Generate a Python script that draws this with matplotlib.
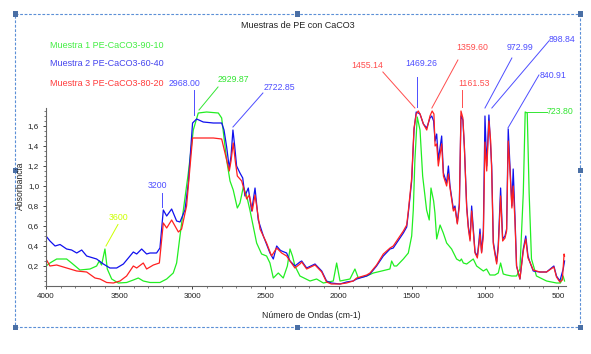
import matplotlib
matplotlib.use("Agg")
import matplotlib.pyplot as plt
from matplotlib.patches import Rectangle
from matplotlib.ticker import MultipleLocator, FuncFormatter

plt.rcParams['font.family'] = ['Liberation Sans', 'DejaVu Sans']

title = "Muestras de PE con CaCO3"
series_names = ["Muestra 1 PE-CaCO3-90-10", "Muestra 2 PE-CaCO3-60-40", "Muestra 3 PE-CaCO3-80-20"]
xlabel = "Número de Ondas (cm-1)"
ylabel = "Absorbancia"
xticks = [4000, 3500, 3000, 2500, 2000, 1500, 1000, 500]
yticks = [0.2, 0.4, 0.6, 0.8, 1.0, 1.2, 1.4, 1.6]

# Muestra 1 (green)
w1 = [4000, 3973, 3927, 3859, 3825, 3768, 3699, 3654, 3636, 3620, 3597, 3581, 3551, 3506, 3449,
      3403, 3369, 3335, 3289, 3221, 3175, 3130, 3107, 3084, 3061, 3027, 2993, 2959, 2902, 2822,
      2799, 2765, 2742, 2720, 2692, 2674, 2651, 2628, 2606, 2560, 2526, 2492, 2469, 2446, 2412,
      2378, 2350, 2332, 2315, 2298, 2264, 2195, 2150, 2104, 2036, 2013, 1990, 1922, 1888, 1865,
      1808, 1762, 1705, 1649, 1637, 1620, 1603, 1557, 1523, 1500, 1489, 1478, 1462, 1443, 1425,
      1398, 1380, 1368, 1350, 1341, 1329, 1306, 1284, 1261, 1227, 1193, 1170, 1160, 1147, 1124,
      1079, 1056, 1010, 988, 965, 931, 908, 892, 874, 851, 817, 783, 760, 737, 724,
      710, 697, 681, 647, 578, 510, 483, 465, 455]
a1 = [0.20, 0.23, 0.27, 0.27, 0.23, 0.16, 0.17, 0.20, 0.25, 0.21, 0.37, 0.17, 0.07, 0.03, 0.035,
      0.06, 0.08, 0.05, 0.035, 0.035, 0.07, 0.13, 0.23, 0.50, 0.76, 1.13, 1.56, 1.73, 1.74, 1.73,
      1.68, 1.26, 1.05, 0.96, 0.78, 0.83, 0.99, 0.90, 0.76, 0.43, 0.32, 0.30, 0.23, 0.08, 0.13,
      0.08, 0.20, 0.37, 0.30, 0.20, 0.10, 0.05, 0.07, 0.03, 0.05, 0.23, 0.05, 0.07, 0.17, 0.08,
      0.10, 0.13, 0.15, 0.17, 0.25, 0.20, 0.20, 0.27, 0.33, 0.50, 0.76, 1.26, 1.69, 1.56, 1.10,
      0.76, 0.66, 0.98, 0.85, 0.73, 0.47, 0.61, 0.53, 0.43, 0.37, 0.27, 0.25, 0.27, 0.23, 0.22,
      0.27, 0.20, 0.15, 0.17, 0.11, 0.11, 0.13, 0.23, 0.12, 0.11, 0.10, 0.10, 0.17, 0.93, 1.74,
      1.73, 0.93, 0.27, 0.10, 0.05, 0.03, 0.03, 0.10, 0.05]

# Muestra 2 (blue)
w2 = [4000, 3973, 3938, 3904, 3859, 3825, 3790, 3756, 3722, 3654, 3608, 3563, 3517, 3471, 3437,
      3403, 3380, 3346, 3312, 3289, 3244, 3221, 3198, 3175, 3141, 3107, 3084, 3050, 3027, 2998,
      2970, 2925, 2856, 2799, 2783, 2765, 2747, 2735, 2722, 2710, 2697, 2674, 2655, 2640, 2617,
      2594, 2571, 2549, 2514, 2469, 2446, 2423, 2400, 2389, 2355, 2332, 2298, 2264, 2252, 2218,
      2161, 2115, 2082, 2050, 1990, 1945, 1900, 1876, 1808, 1785, 1740, 1694, 1648, 1626, 1603,
      1557, 1534, 1523, 1500, 1484, 1469, 1455, 1443, 1420, 1397, 1375, 1363, 1350, 1340, 1329,
      1318, 1295, 1283, 1261, 1249, 1238, 1215, 1204, 1188, 1174, 1163, 1150, 1140, 1124, 1113,
      1101, 1090, 1067, 1051, 1040, 1033, 1022, 1010, 999, 987, 972, 960, 953, 942, 931,
      919, 908, 892, 878, 862, 851, 840, 828, 815, 806, 794, 783, 760, 737, 720,
      705, 692, 669, 624, 578, 528, 510, 487, 464, 455]
a2 = [0.50, 0.45, 0.40, 0.415, 0.37, 0.36, 0.33, 0.36, 0.30, 0.27, 0.22, 0.18, 0.18, 0.22, 0.28,
      0.34, 0.32, 0.37, 0.32, 0.33, 0.33, 0.38, 0.76, 0.70, 0.77, 0.65, 0.64, 0.76, 1.03, 1.63,
      1.67, 1.64, 1.63, 1.63, 1.56, 1.39, 1.18, 1.30, 1.56, 1.40, 1.20, 1.13, 1.08, 0.90, 0.98,
      0.75, 0.98, 0.66, 0.50, 0.33, 0.27, 0.40, 0.36, 0.35, 0.33, 0.25, 0.20, 0.24, 0.25, 0.18,
      0.22, 0.15, 0.05, 0.03, 0.02, 0.04, 0.05, 0.07, 0.10, 0.12, 0.20, 0.30, 0.37, 0.38, 0.43,
      0.53, 0.59, 0.73, 1.05, 1.56, 1.74, 1.73, 1.72, 1.62, 1.58, 1.68, 1.70, 1.65, 1.45, 1.52,
      1.26, 1.50, 1.13, 1.03, 1.20, 1.00, 0.77, 0.80, 0.63, 0.83, 1.70, 1.66, 1.40, 0.80, 0.60,
      0.47, 0.80, 0.34, 0.30, 0.45, 0.57, 0.34, 0.55, 1.70, 1.20, 1.71, 1.40, 1.20, 0.44, 0.34,
      0.24, 0.41, 0.98, 0.47, 0.50, 0.57, 1.57, 1.20, 0.80, 1.17, 0.70, 0.20, 0.07, 0.37, 0.50,
      0.30, 0.24, 0.15, 0.14, 0.14, 0.20, 0.10, 0.05, 0.17, 0.25]

# Muestra 3 (red)
w3 = [4000, 3973, 3927, 3859, 3790, 3722, 3665, 3631, 3585, 3540, 3494, 3449, 3403, 3380, 3335,
      3312, 3266, 3225, 3198, 3175, 3141, 3095, 3073, 3039, 2998, 2948, 2856, 2799, 2776, 2747,
      2735, 2720, 2706, 2692, 2662, 2628, 2610, 2590, 2571, 2537, 2492, 2458, 2423, 2389, 2355,
      2332, 2298, 2264, 2252, 2218, 2161, 2115, 2082, 2050, 1990, 1945, 1900, 1876, 1808, 1785,
      1740, 1694, 1648, 1626, 1603, 1557, 1534, 1523, 1500, 1484, 1469, 1455, 1443, 1420, 1397,
      1375, 1360, 1348, 1340, 1329, 1318, 1295, 1283, 1261, 1249, 1238, 1215, 1204, 1188, 1174,
      1163, 1150, 1140, 1124, 1113, 1101, 1090, 1067, 1051, 1040, 1033, 1022, 1010, 999, 987,
      972, 960, 953, 942, 931, 919, 908, 892, 878, 862, 851, 840, 828, 815, 806,
      794, 783, 760, 737, 720, 705, 692, 669, 624, 578, 528, 510, 487, 470, 458, 455]
a3 = [0.27, 0.20, 0.21, 0.18, 0.15, 0.14, 0.08, 0.07, 0.035, 0.03, 0.05, 0.10, 0.20, 0.18, 0.23,
      0.17, 0.21, 0.23, 0.63, 0.58, 0.66, 0.54, 0.57, 0.80, 1.48, 1.48, 1.48, 1.47, 1.33, 1.15,
      1.25, 1.43, 1.25, 1.10, 1.05, 0.87, 0.91, 0.75, 0.91, 0.57, 0.43, 0.30, 0.38, 0.33, 0.30,
      0.25, 0.18, 0.22, 0.24, 0.17, 0.21, 0.14, 0.04, 0.02, 0.02, 0.03, 0.05, 0.08, 0.11, 0.13,
      0.21, 0.32, 0.38, 0.40, 0.45, 0.55, 0.61, 0.75, 1.08, 1.58, 1.72, 1.75, 1.72, 1.62, 1.56,
      1.70, 1.75, 1.72, 1.40, 1.42, 1.20, 1.42, 1.10, 1.00, 1.12, 0.98, 0.75, 0.78, 0.62, 0.80,
      1.75, 1.68, 1.40, 0.78, 0.58, 0.45, 0.75, 0.33, 0.28, 0.42, 0.52, 0.33, 0.50, 1.44, 1.15,
      1.65, 1.45, 1.15, 0.42, 0.32, 0.22, 0.38, 0.90, 0.45, 0.48, 0.55, 1.45, 1.15, 0.78, 1.00,
      0.65, 0.20, 0.07, 0.35, 0.47, 0.28, 0.24, 0.16, 0.14, 0.14, 0.19, 0.09, 0.04, 0.06, 0.32, 0.30]

# peak annotations: (text, colour, text position, line start, line end) in data units
ann_text = ["2968.00", "2929.87", "2722.85", "3200", "3600", "1455.14", "1469.26",
            "1359.60", "1161.53", "972.99", "898.84", "840.91", "723.80"]
ann_color = ["#4d4dff", "#33e633", "#4d4dff", "#4d4dff", "#ccff00", "#ff4d4d", "#4d4dff",
             "#ff4d4d", "#ff4d4d", "#4d4dff", "#4d4dff", "#4d4dff", "#33e633"]
ann_txt_xy = [(3050, 2.03), (2722, 2.06), (2401, 1.99), (3241, 1.00), (3501, 0.68),
              (1806, 2.21), (1437, 2.22), (1088, 2.38), (1075, 2.03), (760, 2.38),
              (473, 2.46), (535, 2.11), (487, 1.74)]
ann_l0 = [(2988, 1.96), (2824, 1.99), (2517, 1.93), (3207, 0.93), (3508, 0.615),
          (1697, 2.14), (1464, 2.09), (1184, 2.26), (1157, 1.96), (815, 2.28),
          (562, 2.45), (630, 2.11), (712, 1.74)]
ann_l1 = [(2988, 1.71), (2954, 1.76), (2722, 1.59), (3207, 0.79), (3590, 0.40),
          (1478, 1.78), (1464, 1.79), (1362, 1.78), (1157, 1.79), (999, 1.78),
          (952, 1.78), (842, 1.58), (576, 1.74)]

W, H = 591, 354
fig = plt.figure(figsize=(W / 100, H / 100), dpi=100)
fig.patch.set_facecolor("white")

ax = fig.add_axes([46 / W, 1 - 286 / H, 520 / W, 178 / H])
line_colors = ["#22ee22", "#1010ee", "#ff2020"]
ax.plot(w1, a1, color=line_colors[0], lw=0.9)
ax.plot(w2, a2, color=line_colors[1], lw=0.9)
ax.plot(w3, a3, color=line_colors[2], lw=0.9)

ax.set_xlim(4000, 445)
ax.set_ylim(0.0, 1.78)
ax.set_xticks(xticks)
ax.set_yticks(yticks)
ax.xaxis.set_minor_locator(MultipleLocator(100))
ax.yaxis.set_minor_locator(MultipleLocator(0.05))
ax.yaxis.set_major_formatter(FuncFormatter(lambda v, p: f"{v:.1f}".replace(".", ",")))
for s in ["top", "right"]:
    ax.spines[s].set_visible(False)
for s in ["left", "bottom"]:
    ax.spines[s].set_color("#666666")
    ax.spines[s].set_linewidth(0.8)
ax.tick_params(which="major", direction="out", length=2.5, width=0.7, color="#444444",
               labelsize=5.8, pad=2.5, labelcolor="#222222")
ax.tick_params(which="minor", direction="out", length=1.5, width=0.6, color="#666666")

fig.text(311 / W, 1 - 316 / H, xlabel, ha="center", va="center", fontsize=6.2, color="#222222")
fig.text(20 / W, 1 - 186 / H, ylabel, ha="center", va="center", rotation=90, fontsize=6.2, color="#222222")
fig.text(298 / W, 1 - 25 / H, title, ha="center", va="center", fontsize=6.5, color="#222222")

leg_colors = ["#44ee44", "#4444ee", "#ff3b3b"]
leg_y = [46, 64, 83]
for name, c, yy in zip(series_names, leg_colors, leg_y):
    fig.text(50 / W, 1 - yy / H, name, ha="left", va="center", fontsize=6.5, color=c)

for t, c, txy, p0, p1 in zip(ann_text, ann_color, ann_txt_xy, ann_l0, ann_l1):
    ax.annotate(t, xy=txy, ha="center", va="center", fontsize=6.3, color=c, annotation_clip=False)
    ax.plot([p0[0], p1[0]], [p0[1], p1[1]], color=c, lw=0.7, clip_on=False)

# dashed selection frame with handles
frame = Rectangle((15 / W, 1 - 327 / H), 565 / W, 313 / H, transform=fig.transFigure,
                  fill=False, edgecolor="#5b8fd6", lw=0.8, linestyle=(0, (2.5, 1.5)))
fig.add_artist(frame)
handles = [(15, 14), (297, 14), (580, 14), (15, 170), (580, 170), (15, 327), (297, 327), (580, 327)]
for hx, hy in handles:
    fig.add_artist(Rectangle(((hx - 2.5) / W, 1 - (hy + 2.5) / H), 5 / W, 5 / H,
                             transform=fig.transFigure, facecolor="#4a6fa5", edgecolor="none"))

fig.savefig("out.png", dpi=100)
